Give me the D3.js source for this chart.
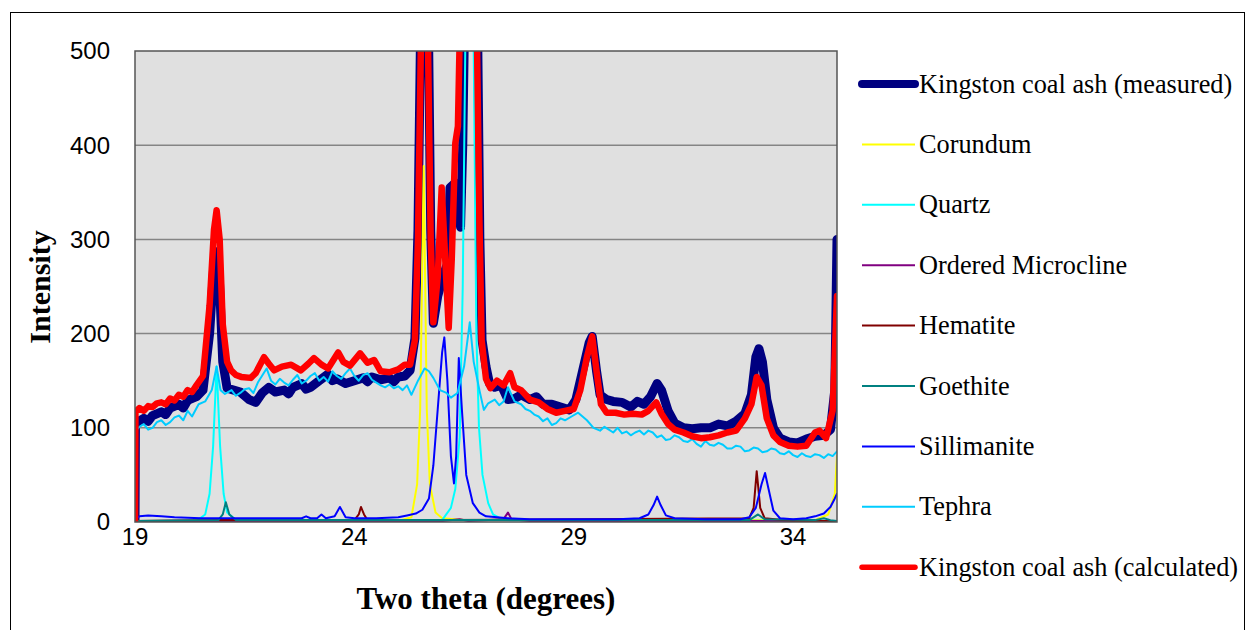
<!DOCTYPE html>
<html>
<head>
<meta charset="utf-8">
<script src="https://cdn.jsdelivr.net/npm/d3@7"></script>
<style>
  html, body { margin: 0; padding: 0; background: #fff; }
  svg { display: block; }
</style>
</head>
<body>
<svg id="chart" width="1246" height="630"></svg>
<script>
// XRD pattern, Kingston coal ash: [two theta, intensity]
const measured = [
  [19.0,0],[19.01,105],[19.2,110],[19.3,107],[19.4,113],[19.6,117],[19.7,114],[19.8,121],[20.0,125],[20.1,121],
  [20.2,129],[20.4,133],[20.55,140],[20.7,200],[20.8,275],[20.85,287],[20.92,260],[21.0,170],[21.1,142],
  [21.25,140],[21.4,138],[21.6,130],[21.75,127],[21.9,137],[22.05,143],[22.2,138],[22.4,140],[22.5,136],
  [22.6,143],[22.8,147],[22.9,141],[23.0,143],[23.2,150],[23.4,157],[23.5,150],[23.6,152],[23.8,147],
  [24.0,150],[24.2,153],[24.3,149],[24.4,154],[24.6,151],[24.8,153],[24.9,149],[25.0,154],[25.15,155],
  [25.27,161],[25.38,195],[25.45,310],[25.52,560],[25.6,700],[25.68,560],[25.74,310],[25.80,211],[25.9,240],
  [26.05,265],[26.13,275],[26.18,355],[26.3,360],[26.38,358],[26.42,313],[26.47,400],[26.52,560],[26.65,950],
  [26.8,560],[26.86,300],[26.91,193],[27.0,165],[27.08,147],[27.2,143],[27.35,145],[27.5,130],[27.65,131],
  [27.8,135],[28.0,130],[28.15,133],[28.3,125],[28.5,125],[28.7,122],[28.9,119],[29.05,130],[29.2,160],
  [29.35,190],[29.42,197],[29.52,160],[29.6,135],[29.75,130],[29.9,128],[30.1,127],[30.3,122],[30.45,128],
  [30.6,125],[30.75,133],[30.9,147],[31.0,140],[31.15,118],[31.3,105],[31.5,100],[31.7,99],[31.9,100],
  [32.1,100],[32.3,104],[32.5,102],[32.7,107],[32.9,115],[33.05,135],[33.15,175],[33.22,184],[33.3,170],
  [33.4,130],[33.55,100],[33.7,89],[33.9,85],[34.1,84],[34.3,88],[34.5,91],[34.7,92],[34.85,98],
  [34.95,140],[35.0,300]
];
const corundum = [
  [19.0,0],[25.0,1],[25.3,5],[25.43,40],[25.5,120],[25.58,378],[25.65,120],[25.72,40],[25.85,10],
  [26.0,4],[26.5,2],[34.5,2],[34.8,8],[34.95,30],[35.0,70]
];
const quartz = [
  [19.0,0],[20.4,1],[20.6,8],[20.7,30],[20.78,80],[20.86,165],[20.94,80],[21.02,30],[21.1,10],[21.3,2],
  [26.0,2],[26.2,15],[26.3,35],[26.4,90],[26.47,250],[26.55,600],[26.64,1200],[26.72,500],[26.78,200],
  [26.84,100],[26.92,50],[27.05,20],[27.16,8],[27.4,2],[35.0,1]
];
const microcline = [
  [19.0,0],[24.0,1],[26.0,1],[26.4,3],[26.6,1],[27.4,3],[27.5,10],[27.58,3],[28.0,1],[35.0,1]
];
const hematite = [
  [19.0,1],[21.0,2],[24.0,2],[24.1,8],[24.15,16],[24.22,8],[24.3,2],[26.0,2],[33.0,4],[33.1,15],
  [33.17,54],[33.25,15],[33.35,4],[34.0,1],[35.0,1]
];
const goethite = [
  [19.0,1],[20.9,2],[21.0,8],[21.07,21],[21.15,8],[21.3,2],[26.5,2],[33.0,2],[33.2,8],[33.35,3],
  [34.5,2],[34.7,4],[34.85,2],[35.0,1]
];
const sillimanite = [
  [19.0,3],[19.1,6],[19.3,7],[19.6,6],[19.9,5],[20.5,4],[22.0,4],[22.8,4],[22.9,6],[23.0,4],[23.15,4],
  [23.25,8],[23.35,4],[23.55,6],[23.67,16],[23.8,5],[24.0,4],[24.5,4],[25.0,5],[25.2,7],[25.4,9],
  [25.55,13],[25.7,25],[25.8,60],[25.9,120],[26.0,180],[26.05,196],[26.12,150],[26.2,70],[26.27,41],
  [26.32,70],[26.38,174],[26.45,120],[26.55,50],[26.7,20],[26.85,10],[27.0,6],[27.5,4],[28.0,3],
  [29.0,3],[30.0,3],[30.5,4],[30.7,8],[30.82,18],[30.9,27],[30.98,18],[31.1,7],[31.3,4],[32.0,3],
  [32.8,3],[33.0,5],[33.15,15],[33.28,40],[33.36,52],[33.44,35],[33.55,12],[33.7,4],[34.0,3],[34.3,4],
  [34.5,6],[34.7,9],[34.85,16],[34.95,25],[35.0,30]
];
const tephra = [
  [19.0,96],[19.1,101],[19.2,104],[19.3,98],[19.4,100],[19.5,106],[19.6,108],[19.7,103],[19.8,106],
  [19.9,111],[20.0,113],[20.1,108],[20.2,118],[20.3,112],[20.45,125],[20.6,128],[20.75,140],[20.86,165],
  [20.95,140],[21.05,136],[21.2,140],[21.3,134],[21.4,137],[21.5,141],[21.6,142],[21.7,137],[21.8,148],
  [22.0,163],[22.1,150],[22.2,146],[22.3,152],[22.4,148],[22.5,145],[22.6,151],[22.7,156],[22.8,147],
  [22.9,150],[23.0,155],[23.1,158],[23.2,150],[23.3,154],[23.4,149],[23.5,160],[23.6,155],[23.7,152],
  [23.8,158],[23.9,163],[24.0,155],[24.1,150],[24.2,156],[24.3,158],[24.4,151],[24.5,148],[24.6,145],
  [24.7,143],[24.8,146],[24.9,142],[25.0,144],[25.1,140],[25.2,145],[25.3,135],[25.45,150],[25.6,163],
  [25.7,160],[25.8,153],[25.95,140],[26.1,137],[26.2,132],[26.35,137],[26.5,165],[26.63,212],[26.72,170],
  [26.85,140],[26.95,119],[27.05,126],[27.2,130],[27.3,124],[27.4,128],[27.5,143],[27.65,128],[27.8,125],
  [27.9,120],[28.0,118],[28.1,114],[28.2,112],[28.3,107],[28.4,110],[28.5,103],[28.6,105],[28.7,110],
  [28.8,108],[28.95,112],[29.1,116],[29.3,108],[29.45,100],[29.6,97],[29.7,101],[29.8,98],[29.9,95],
  [30.0,100],[30.1,94],[30.2,96],[30.3,92],[30.4,95],[30.5,97],[30.6,93],[30.7,97],[30.8,95],[30.9,90],
  [31.0,92],[31.1,87],[31.2,88],[31.3,92],[31.4,90],[31.5,86],[31.6,85],[31.7,88],[31.8,83],[31.9,80],
  [32.0,86],[32.1,82],[32.2,81],[32.3,84],[32.4,82],[32.5,78],[32.6,78],[32.7,81],[32.8,80],[32.9,75],
  [33.0,76],[33.1,79],[33.2,78],[33.3,74],[33.4,75],[33.5,78],[33.6,77],[33.7,73],[33.8,72],[33.9,75],
  [34.0,71],[34.1,69],[34.2,73],[34.3,70],[34.4,69],[34.5,72],[34.6,71],[34.7,68],[34.8,72],[34.9,70],
  [35.0,75]
];
const calculated = [
  [19.0,0],[19.01,117],[19.1,121],[19.2,118],[19.3,123],[19.4,122],[19.5,126],[19.6,127],[19.7,125],
  [19.8,131],[19.9,129],[20.0,135],[20.1,133],[20.2,140],[20.3,138],[20.4,145],[20.55,155],[20.7,230],
  [20.8,310],[20.86,331],[20.93,300],[21.0,210],[21.1,170],[21.19,161],[21.3,156],[21.42,154],[21.64,153],
  [21.75,158],[21.94,175],[22.05,168],[22.17,161],[22.35,165],[22.56,167],[22.78,161],[22.95,168],
  [23.08,174],[23.25,167],[23.4,163],[23.63,180],[23.75,170],[23.9,166],[24.13,179],[24.3,169],[24.45,172],
  [24.6,160],[24.8,159],[25.0,162],[25.15,167],[25.27,167],[25.38,193],[25.45,300],[25.52,520],[25.6,650],
  [25.68,500],[25.74,300],[25.80,212],[25.9,260],[25.99,355],[26.08,270],[26.15,206],[26.22,280],[26.3,402],
  [26.36,420],[26.42,560],[26.65,900],[26.78,560],[26.85,320],[26.9,193],[27.0,152],[27.1,142],[27.25,150],
  [27.4,145],[27.55,158],[27.65,143],[27.8,140],[28.0,130],[28.2,127],[28.4,120],[28.6,116],[28.8,118],
  [29.0,120],[29.15,140],[29.3,175],[29.42,197],[29.52,160],[29.62,125],[29.75,116],[29.95,116],
  [30.15,114],[30.35,115],[30.55,114],[30.7,118],[30.88,127],[31.0,115],[31.15,104],[31.3,98],[31.5,95],
  [31.7,91],[31.9,89],[32.1,90],[32.3,92],[32.5,95],[32.7,97],[32.9,110],[33.05,125],[33.17,154],
  [33.28,145],[33.4,110],[33.55,92],[33.7,85],[33.9,81],[34.1,80],[34.3,81],[34.5,95],[34.6,97],
  [34.75,89],[34.9,118],[35.0,240]
];

const xTicks = [19, 24, 29, 34];
const yTicks = [0, 100, 200, 300, 400, 500];

const series = [
  { name: "Kingston coal ash (measured)", data: measured, color: "#000080", width: 9 },
  { name: "Corundum", data: corundum, color: "#ffff00", width: 2 },
  { name: "Quartz", data: quartz, color: "#00ffff", width: 2 },
  { name: "Ordered Microcline", data: microcline, color: "#800080", width: 2 },
  { name: "Hematite", data: hematite, color: "#800000", width: 2 },
  { name: "Goethite", data: goethite, color: "#008080", width: 2 },
  { name: "Sillimanite", data: sillimanite, color: "#0000ff", width: 2 },
  { name: "Tephra", data: tephra, color: "#00ccff", width: 2 },
  { name: "Kingston coal ash (calculated)", data: calculated, color: "#ff0000", width: 6.5 }
];

const svg = d3.select("#chart");
const plot = { left: 135, right: 837, top: 51, bottom: 522 };

// outer chart frame
svg.append("rect")
  .attr("x", 10.5).attr("y", 12.5).attr("width", 1234).attr("height", 640)
  .attr("fill", "#fff").attr("stroke", "#000").attr("stroke-width", 1);

const x = d3.scaleLinear().domain([19, 35]).range([plot.left, plot.right]);
const y = d3.scaleLinear().domain([0, 500]).range([plot.bottom, plot.top]);

svg.append("rect")
  .attr("x", plot.left).attr("y", plot.top)
  .attr("width", plot.right - plot.left).attr("height", plot.bottom - plot.top)
  .attr("fill", "#e0e0e0");

svg.append("defs").append("clipPath").attr("id", "clip")
  .append("rect")
  .attr("x", plot.left).attr("y", plot.top)
  .attr("width", plot.right - plot.left).attr("height", plot.bottom - plot.top);

// gridlines
svg.append("g").selectAll("line")
  .data(yTicks.filter(d => d > 0 && d < 500)).join("line")
  .attr("x1", plot.left).attr("x2", plot.right)
  .attr("y1", d => y(d)).attr("y2", d => y(d))
  .attr("stroke", "#858585").attr("stroke-width", 1.5);

// tick labels
svg.append("g").selectAll("text")
  .data(yTicks).join("text")
  .attr("x", 110).attr("y", d => y(d))
  .attr("dy", "0.35em")
  .attr("text-anchor", "end")
  .attr("font-family", "Liberation Sans, Arial, sans-serif")
  .attr("font-size", "24px")
  .attr("fill", "#000")
  .text(d => d);

svg.append("g").selectAll("text")
  .data(xTicks).join("text")
  .attr("x", d => x(d)).attr("y", 545)
  .attr("text-anchor", "middle")
  .attr("font-family", "Liberation Sans, Arial, sans-serif")
  .attr("font-size", "24px")
  .attr("fill", "#000")
  .text(d => d);

// series lines
const line = d3.line().x(d => x(d[0])).y(d => y(d[1]));
const lines = svg.append("g").attr("clip-path", "url(#clip)");
series.forEach(s => {
  lines.append("path")
    .datum(s.data)
    .attr("d", line)
    .attr("fill", "none")
    .attr("stroke", s.color)
    .attr("stroke-width", s.width)
    .attr("stroke-linejoin", "round")
    .attr("stroke-linecap", "round");
});

// plot border
svg.append("rect")
  .attr("x", plot.left).attr("y", plot.top)
  .attr("width", plot.right - plot.left).attr("height", plot.bottom - plot.top)
  .attr("fill", "none").attr("stroke", "#555").attr("stroke-width", 1.5);

// axis titles
svg.append("text")
  .attr("x", 486).attr("y", 609)
  .attr("text-anchor", "middle")
  .attr("font-family", "Liberation Serif, Times New Roman, serif")
  .attr("font-weight", "700")
  .attr("font-size", "31px")
  .text("Two theta (degrees)");

svg.append("text")
  .attr("transform", "translate(50,287) rotate(-90)")
  .attr("text-anchor", "middle")
  .attr("font-family", "Liberation Serif, Times New Roman, serif")
  .attr("font-weight", "700")
  .attr("font-size", "30px")
  .text("Intensity");

// legend
const legend = svg.append("g");
series.forEach((s, i) => {
  const ly = 84 + i * 60.4;
  legend.append("line")
    .attr("x1", 862).attr("x2", 915)
    .attr("y1", ly).attr("y2", ly)
    .attr("stroke", s.color)
    .attr("stroke-width", s.width > 2 ? s.width - 1 : 2)
    .attr("stroke-linecap", s.width > 2 ? "round" : "butt");
  legend.append("text")
    .attr("x", 919).attr("y", ly)
    .attr("dy", "0.33em")
    .attr("font-family", "Liberation Serif, Times New Roman, serif")
    .attr("font-size", "26.3px")
    .attr("fill", "#000")
    .text(s.name);
});
</script>
</body>
</html>
